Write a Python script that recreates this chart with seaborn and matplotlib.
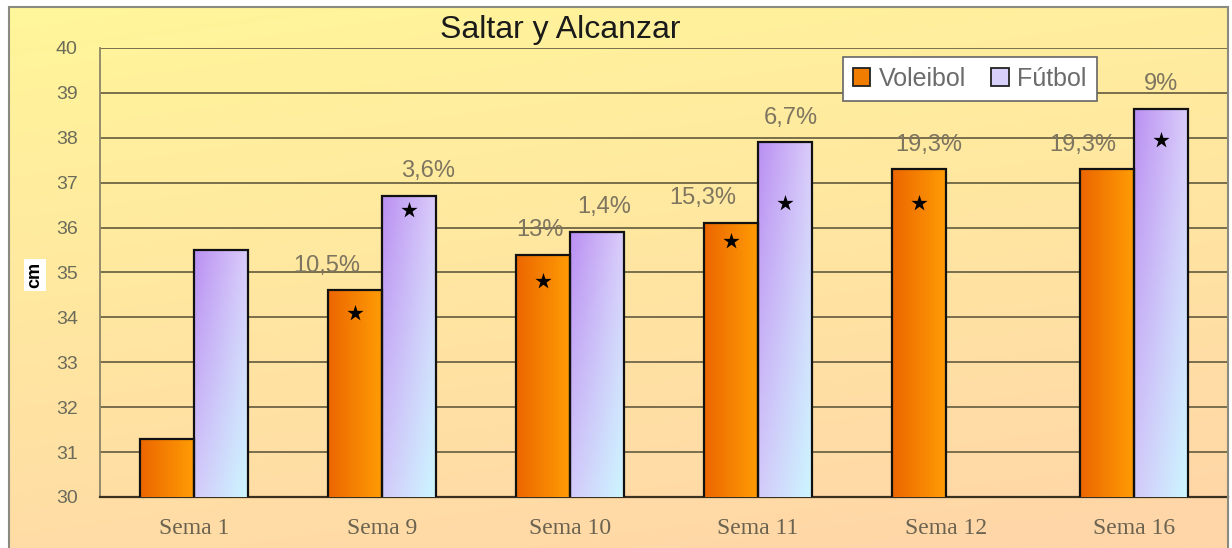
import numpy as np
import pandas as pd
import matplotlib
matplotlib.use("Agg")
import matplotlib.pyplot as plt
import seaborn as sns
from matplotlib.patches import Rectangle, Patch
from matplotlib.colors import to_rgb

# ---------------- data ----------------
semanas = ["Sema 1", "Sema 9", "Sema 10", "Sema 11", "Sema 12", "Sema 16"]
series = ["Voleibol", "Fútbol"]
voleibol = [31.3, 34.6, 35.4, 36.1, 37.3, 37.3]
futbol = [35.5, 36.7, 35.9, 37.9, np.nan, 38.65]
pct_voleibol = ["", "10,5%", "13%", "15,3%", "19,3%", "19,3%"]
pct_futbol = ["", "3,6%", "1,4%", "6,7%", "", "9%"]
star_voleibol = [np.nan, 34.1, 34.8, 35.7, 36.55, np.nan]
star_futbol = [np.nan, 36.4, np.nan, 36.55, np.nan, 37.95]
yticks = list(range(30, 41))
title = "Saltar y Alcanzar"
ylabel = "cm"

# label placement nudges (layout, in category units)
pct_dx_voleibol = [0, -0.15, -0.02, -0.15, 0.05, -0.13]
pct_dx_futbol = [0, 0.1, 0.04, 0.03, 0, 0.0]

# ---------------- style ----------------
sns.set_theme(style="white")
plt.rcParams["font.family"] = ["Liberation Sans", "DejaVu Sans"]

W, H = 1232, 548
fig = plt.figure(figsize=(W / 100, H / 100), dpi=100)
fig.patch.set_facecolor("white")

# background gradient panel
bg = fig.add_axes([9 / W, 0, (1228 - 9) / W, 1 - 7 / H])
ny, nx = 200, 300
yy, xx = np.mgrid[0:1:ny * 1j, 0:1:nx * 1j]
t = np.clip(0.8 * yy + 0.25 * xx, 0, 1)[..., None]
c_top = np.array(to_rgb("#FFF69A"))
c_bot = np.array(to_rgb("#FFD6A8"))
bg.imshow(c_top * (1 - t) + c_bot * t, extent=[0, 1, 0, 1], aspect="auto", origin="upper")
bg.set_xlim(0, 1); bg.set_ylim(0, 1)
bg.axis("off")
fig.add_artist(Rectangle((9 / W, -0.01), (1228 - 9) / W, 1 - 7 / H + 0.01,
                         transform=fig.transFigure, fill=False,
                         edgecolor="#8a8a80", linewidth=1.5))

# main axes
ax = fig.add_axes([100 / W, 51 / H, 1128 / W, 449 / H])
ax.set_facecolor("none")

df = pd.DataFrame({
    "semana": semanas * 2,
    "deporte": [series[0]] * len(semanas) + [series[1]] * len(semanas),
    "cm": voleibol + futbol,
}).dropna()

colors = ["#F98200", "#CDB8F8"]
sns.barplot(data=df, x="semana", y="cm", hue="deporte", order=semanas,
            hue_order=series, palette=colors, width=0.57, errorbar=None,
            edgecolor="#111111", linewidth=1.6, legend=False, ax=ax)

ax.set_ylim(30, 40)
xlim = ax.get_xlim()


def grad_orange(n=60):
    h = np.linspace(0, 1, n)[None, :, None]
    left = np.array(to_rgb("#EC6600"))
    right = np.array(to_rgb("#FF9C05"))
    g = left * (1 - h) + right * h
    return np.repeat(g, 4, axis=0)


def grad_lav(n=60):
    yy, xx = np.mgrid[0:1:n * 1j, 0:1:n * 1j]
    tl = np.array(to_rgb("#BA90F2"))
    tr = np.array(to_rgb("#DACCFA"))
    bl = np.array(to_rgb("#D4CAFA"))
    br = np.array(to_rgb("#CCF6FF"))
    yy = yy[..., None]; xx = xx[..., None]
    top = tl * (1 - xx) + tr * xx
    bot = bl * (1 - xx) + br * xx
    return top * (1 - yy) + bot * yy


grads = [grad_orange(), grad_lav()]
stars = [star_voleibol, star_futbol]
pcts = [pct_voleibol, pct_futbol]
pdx = [pct_dx_voleibol, pct_dx_futbol]
vals = [voleibol, futbol]

for k, cont in enumerate(ax.containers):
    for bar in cont:
        h = bar.get_height()
        if not np.isfinite(h):
            continue
        x0, w = bar.get_x(), bar.get_width()
        xc = x0 + w / 2
        i = int(round(xc))
        top = bar.get_y() + h
        ax.imshow(grads[k], extent=[x0, x0 + w, 30, top], aspect="auto",
                  origin="upper", zorder=3, interpolation="bilinear")
        bar.set_facecolor("none")
        bar.set_zorder(4)
        s = stars[k][i]
        if np.isfinite(s):
            ax.scatter([xc], [s], marker="*", s=150, color="black", zorder=6, linewidths=0)
        lab = pcts[k][i]
        if lab:
            ax.text(xc + pdx[k][i], vals[k][i] + 0.55, lab, ha="center", va="center",
                    fontsize=17, color="#7d7560", zorder=6)

ax.set_xlim(xlim)
ax.set_ylim(30, 40)

# grid & axes styling
ax.set_yticks(yticks)
ax.yaxis.grid(True, color="#6e6545", linewidth=1.3)
ax.xaxis.grid(False)
ax.set_axisbelow(True)
ax.spines["top"].set_visible(False)
ax.spines["left"].set_color("#8c8468"); ax.spines["left"].set_linewidth(1.3)
ax.spines["bottom"].set_color("#3a3020"); ax.spines["bottom"].set_linewidth(1.6)
ax.spines["right"].set_color("#9a9070"); ax.spines["right"].set_linewidth(1.2)

ax.tick_params(axis="y", length=7, width=1.2, color="#6e6545", direction="out",
               labelsize=14, labelcolor="#6b6b5a", pad=9)
ax.tick_params(axis="x", which="major", length=0, labelsize=17,
               labelcolor="#6b6350", pad=15)
ax.set_xticks(np.arange(-0.5, len(semanas), 1), minor=True)
ax.tick_params(axis="x", which="minor", length=5, width=1.2, color="#8c8468",
               direction="out")
for lbl in ax.get_xticklabels():
    lbl.set_family(["Liberation Serif", "DejaVu Serif"])
ax.set_xlabel("")
ax.set_ylabel("")

# legend
handles = [Patch(facecolor=c, edgecolor="#222222", linewidth=1.3) for c in ["#F07C00", "#D6D0FA"]]
leg = fig.legend(handles, series, loc="upper left",
                 bbox_to_anchor=(830 / W, 1 - 44 / H), ncol=2, frameon=True,
                 fancybox=False, framealpha=1, edgecolor="#666666",
                 fontsize=18, labelcolor="#6b6b6b", handlelength=0.7,
                 handleheight=0.7, handletextpad=0.35, columnspacing=1.0,
                 borderpad=0.4)
leg.get_frame().set_linewidth(1.2)

# title & y label
fig.text(560 / W, 1 - 30 / H, title, ha="center", va="center", fontsize=23,
         color="#1a1a1a")
fig.text(35 / W, 1 - 275 / H, ylabel, ha="center", va="center", rotation=90,
         fontsize=13, fontweight="bold", color="black",
         bbox=dict(facecolor="white", edgecolor="none", pad=2))

fig.savefig("out.png", dpi=100)
